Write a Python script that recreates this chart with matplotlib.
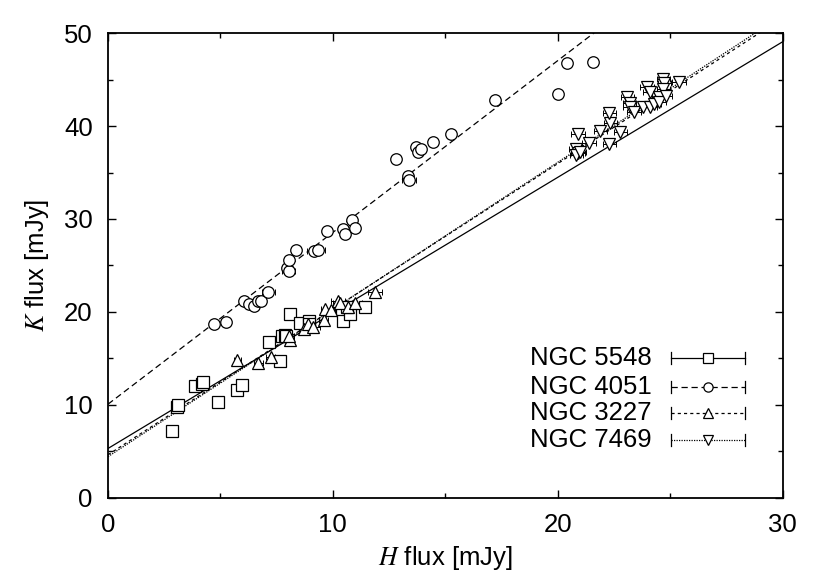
import numpy as np
import matplotlib
matplotlib.use("Agg")
import matplotlib.pyplot as plt

plt.rcParams['font.family'] = ['Liberation Sans', 'DejaVu Sans']
plt.rcParams['mathtext.fontset'] = 'stix'

# NGC 5548 (squares)
h_5548 = [2.83, 3.08, 3.11, 3.87, 4.19, 4.22, 4.9, 5.72, 5.98, 7.16, 7.66, 7.72, 7.87,
          7.9, 8.09, 8.53, 8.93, 8.95, 10.39, 10.46, 10.76, 10.64, 11.42]
k_5548 = [7.15, 9.8, 9.95, 11.96, 12.2, 12.4, 10.3, 11.6, 12.1, 16.7, 14.65, 17.35, 17.5,
          17.4, 19.8, 18.8, 19.0, 18.7, 20.15, 18.96, 19.8, 20.5, 20.5]
herr_5548 = [0.1] * len(h_5548)

# NGC 4051 (circles)
h_4051 = [4.71, 5.24, 6.06, 6.27, 6.49, 6.65, 6.79, 7.13, 7.94, 8.03, 8.03, 8.34, 9.16,
          9.36, 9.73, 10.43, 10.52, 10.87, 11.0, 13.35, 13.39, 12.79, 13.69, 13.8, 13.91,
          14.46, 15.26, 17.23, 20.0, 20.41, 21.56]
k_4051 = [18.64, 18.86, 21.15, 20.87, 20.65, 21.2, 21.15, 22.1, 24.75, 24.4, 25.6, 26.7,
          26.5, 26.7, 28.66, 28.95, 28.4, 29.9, 29.0, 34.6, 34.2, 36.5, 37.7, 37.2, 37.5,
          38.3, 39.2, 42.8, 43.5, 46.8, 46.9]
herr_4051 = [0.1, 0.1, 0.2, 0.15, 0.15, 0.2, 0.2, 0.3, 0.2, 0.3, 0.1, 0.2, 0.3,
             0.3, 0.1, 0.2, 0.2, 0.1, 0.1, 0.1, 0.3, 0.1, 0.1, 0.1, 0.2,
             0.1, 0.1, 0.1, 0.1, 0.1, 0.1]

# NGC 3227 (triangles)
h_3227 = [5.75, 6.68, 7.23, 8.09, 8.06, 8.71, 8.9, 9.13, 9.6, 9.67, 9.94, 10.24, 10.3,
          10.68, 10.98, 11.87]
k_3227 = [14.76, 14.47, 15.1, 17.0, 17.4, 18.2, 18.7, 18.35, 19.07, 20.26, 20.15, 21.15,
          20.9, 20.5, 20.94, 22.1]
herr_3227 = [0.15, 0.2, 0.2, 0.2, 0.2, 0.2, 0.2, 0.3, 0.2, 0.2, 0.2, 0.3, 0.3,
             0.3, 0.3, 0.3]

# NGC 7469 (inverted triangles)
h_7469 = [20.8, 20.9, 20.83, 20.98, 20.9, 21.4, 21.9, 22.3, 22.34, 22.3, 22.79, 23.1,
          23.2, 23.2, 23.4, 23.8, 23.97, 24.1, 24.1, 24.3, 24.5, 24.5, 24.7, 24.75, 24.7,
          24.8, 25.4]
k_7469 = [37.57, 37.1, 36.85, 37.2, 39.1, 38.2, 39.5, 38.1, 40.3, 41.4, 39.4, 43.1,
          42.5, 42.06, 41.5, 42.06, 44.2, 43.7, 42.06, 42.4, 43.1, 42.6, 45.1, 44.6, 44.0,
          43.3, 44.75]
herr_7469 = [0.3] * len(h_7469)

# linear fits K = a + b*H
fit_5548 = (5.28, 1.46)
fit_4051 = (10.05, 1.85)
fit_3227 = (4.6, 1.568)
fit_7469 = (4.4, 1.585)

names = ['NGC 5548', 'NGC 4051', 'NGC 3227', 'NGC 7469']
styles = [
    ('s', '-', 8.5, (h_5548, k_5548, herr_5548), fit_5548),
    ('o', (0, (5, 3)), 8.3, (h_4051, k_4051, herr_4051), fit_4051),
    ('^', (0, (2.5, 2.5)), 8.8, (h_3227, k_3227, herr_3227), fit_3227),
    ('v', (0, (1, 1)), 8.8, (h_7469, k_7469, herr_7469), fit_7469),
]

fs = 18.5

fig = plt.figure(figsize=(8.3, 5.81), dpi=100)
ax = fig.add_axes([108 / 830, 1 - 497.5 / 581, 674.5 / 830, 464.2 / 581])

xx = np.linspace(0, 30, 200)
for (mk, ls, ms, (h, k, he), (a, b)) in styles:
    ax.errorbar(h, k, xerr=he, fmt='none', ecolor='black', elinewidth=0.7,
                capsize=2, capthick=0.7, linestyle=ls, zorder=2)
    ax.plot(h, k, linestyle='none', marker=mk, markersize=ms, markerfacecolor='white',
            markeredgecolor='black', markeredgewidth=0.9, zorder=3)
    ax.plot(xx, a + b * xx, color='black', linestyle=ls, linewidth=0.9, zorder=1)

# gnuplot-style key
ky = [0.3005, 0.238, 0.182, 0.124]
for (mk, ls, ms, _, _), name, y in zip(styles, names, ky):
    ax.text(0.806, y, name, transform=ax.transAxes, ha='right', va='center',
            fontsize=fs)
    ax.plot([0.834, 0.944], [y, y], transform=ax.transAxes, color='black',
            linestyle=ls, linewidth=0.9, clip_on=False)
    ax.plot([0.834, 0.834], [y - 0.012, y + 0.012], transform=ax.transAxes,
            color='black', linewidth=0.9, clip_on=False)
    ax.plot([0.944, 0.944], [y - 0.012, y + 0.012], transform=ax.transAxes,
            color='black', linewidth=0.9, clip_on=False)
    ax.plot([0.889], [y], transform=ax.transAxes, marker=mk, markersize=ms * 0.8,
            markerfacecolor='white', markeredgecolor='black', markeredgewidth=0.9,
            clip_on=False)

ax.set_xlim(0, 30)
ax.set_ylim(0, 50)
ax.set_xticks([0, 10, 20, 30])
ax.set_xticks([5, 15, 25], minor=True)
ax.set_yticks([0, 10, 20, 30, 40, 50])
ax.set_yticks([5, 15, 25, 35, 45], minor=True)
ax.tick_params(which='both', direction='in', top=True, right=True, labelsize=fs,
               width=1)
ax.tick_params(which='major', length=6)
ax.tick_params(which='minor', length=3.5)
ax.tick_params(axis='x', which='major', pad=11)
ax.tick_params(axis='y', which='major', pad=11)
for s in ax.spines.values():
    s.set_linewidth(1.3)

ax.set_xlabel(r'$\mathit{H}$ flux [mJy]', fontsize=fs, labelpad=5)
ax.set_ylabel(r'$\mathit{K}$ flux [mJy]', fontsize=fs, labelpad=9)

fig.savefig('out.png', dpi=100)
